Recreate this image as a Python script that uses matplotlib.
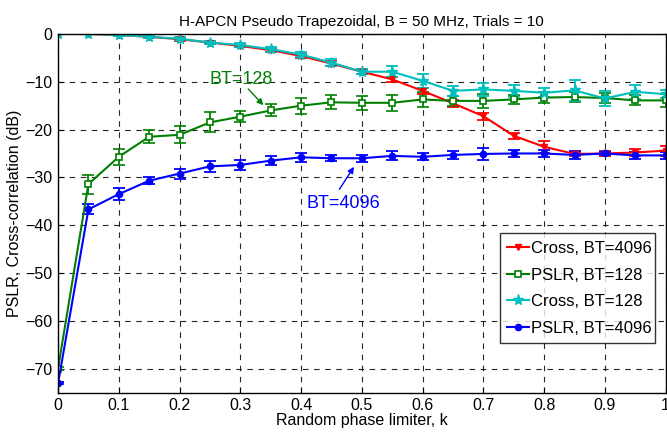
import matplotlib
matplotlib.use("Agg")
import matplotlib.pyplot as plt

plt.rcParams['font.family'] = ['Liberation Sans', 'DejaVu Sans']

# data
k = [0, 0.05, 0.1, 0.15, 0.2, 0.25, 0.3, 0.35, 0.4, 0.45, 0.5,
     0.55, 0.6, 0.65, 0.7, 0.75, 0.8, 0.85, 0.9, 0.95, 1.0]

cross_4096 = [0, 0, -0.2, -0.6, -1.1, -1.8, -2.5, -3.4, -4.6, -6.2, -7.9,
              -9.5, -11.9, -14.5, -17.2, -21.3, -23.6, -25.1, -25.0, -24.8, -24.4]
cross_4096_err = [0.1, 0.1, 0.2, 0.2, 0.3, 0.3, 0.3, 0.3, 0.4, 0.5, 0.5,
                  0.5, 0.7, 0.7, 0.7, 0.6, 1.3, 0.5, 0.5, 0.8, 1.05]

pslr_128 = [-70.0, -31.4, -25.7, -21.5, -21.1, -18.5, -17.3, -16.0, -15.0, -14.3, -14.4,
            -14.4, -13.7, -14.0, -14.0, -13.7, -13.3, -13.2, -13.4, -13.9, -13.9]
pslr_128_err = [0.3, 2.0, 1.65, 1.4, 1.75, 2.1, 1.2, 1.25, 1.7, 1.5, 1.5,
                1.7, 1.6, 1.1, 1.4, 1.0, 1.2, 1.05, 1.0, 1.05, 1.4]

cross_128 = [0, 0, -0.2, -0.6, -1.0, -1.8, -2.3, -3.2, -4.3, -6.0, -7.9,
             -7.9, -9.8, -11.9, -11.6, -11.9, -12.3, -11.8, -13.5, -12.1, -12.6]
cross_128_err = [0.1, 0.1, 0.2, 0.3, 0.3, 0.3, 0.5, 0.5, 0.5, 0.7, 0.5,
                 1.2, 1.5, 1.05, 1.4, 1.2, 0.95, 2.2, 1.5, 1.5, 0.9]

pslr_4096 = [-73.1, -36.7, -33.5, -30.7, -29.2, -27.7, -27.4, -26.5, -25.8, -26.0, -26.0,
             -25.5, -25.7, -25.3, -25.1, -25.0, -25.0, -25.3, -25.0, -25.4, -25.4]
pslr_4096_err = [0.2, 1.05, 1.25, 0.7, 1.05, 1.15, 1.05, 0.9, 0.95, 0.65, 0.75,
                 0.95, 0.75, 0.9, 1.2, 0.65, 0.65, 0.8, 0.4, 0.75, 0.75]

xticks = [0, 0.1, 0.2, 0.3, 0.4, 0.5, 0.6, 0.7, 0.8, 0.9, 1]
xticklabels = ['0', '0.1', '0.2', '0.3', '0.4', '0.5', '0.6', '0.7', '0.8', '0.9', '1']
yticks = [0, -10, -20, -30, -40, -50, -60, -70]

RED = "#ff0000"
GREEN = "#008000"
CYAN = "#00bfbf"
BLUE = "#0000ff"

fig = plt.figure(figsize=(6.67, 4.32), dpi=100)
ax = fig.add_axes([0.087, 0.0914, 0.911, 0.830])

common = dict(linewidth=1.5, capsize=4.5, elinewidth=1.3, capthick=1.3)

c1 = ax.errorbar(k, cross_4096, yerr=cross_4096_err, color=RED, marker='v',
                 markersize=5, label="Cross, BT=4096", **common)
c2 = ax.errorbar(k, pslr_128, yerr=pslr_128_err, color=GREEN, marker='s',
                 markersize=5, markerfacecolor='white', markeredgewidth=1.2,
                 label="PSLR, BT=128", **common)
c3 = ax.errorbar(k, cross_128, yerr=cross_128_err, color=CYAN, marker='*',
                 markersize=8, label="Cross, BT=128", **common)
c4 = ax.errorbar(k, pslr_4096, yerr=pslr_4096_err, color=BLUE, marker='o',
                 markersize=4.5, label="PSLR, BT=4096", **common)

ax.set_xlim(0, 1)
ax.set_ylim(-75, 0)
ax.set_xticks(xticks)
ax.set_xticklabels(xticklabels)
ax.set_yticks(yticks)
ax.tick_params(direction='in', labelsize=11.5, length=4, pad=4)
ax.grid(True, color='black', linestyle=(0, (5, 5)), linewidth=0.8, alpha=0.85)
ax.set_axisbelow(True)
for s in ax.spines.values():
    s.set_linewidth(1.0)

ax.set_title("H-APCN Pseudo Trapezoidal, B = 50 MHz, Trials = 10", fontsize=11, pad=6)
ax.set_xlabel("Random phase limiter, k", fontsize=11.5, labelpad=0)
ax.set_ylabel("PSLR, Cross-correlation (dB)", fontsize=11.5, labelpad=2)

# text labels with arrows
ax.text(0.302, -9.6, "BT=128", color=GREEN, fontsize=13, ha='center', va='center')
ax.annotate("", xy=(0.338, -14.9), xytext=(0.313, -11.5),
            arrowprops=dict(arrowstyle='-|>', color=GREEN, lw=1.0,
                            mutation_scale=9, shrinkA=0, shrinkB=0))
ax.text(0.469, -35.5, "BT=4096", color=BLUE, fontsize=13, ha='center', va='center')
ax.annotate("", xy=(0.487, -27.8), xytext=(0.463, -32.5),
            arrowprops=dict(arrowstyle='-|>', color=BLUE, lw=1.0,
                            mutation_scale=9, shrinkA=0, shrinkB=0))

handles = [c1[0], c2[0], c3[0], c4[0]]
labels = ["Cross, BT=4096", "PSLR, BT=128", "Cross, BT=128", "PSLR, BT=4096"]
leg = ax.legend(handles, labels, loc='lower left',
                bbox_to_anchor=(0.727, 0.137, 0.255, 0.298),
                mode='expand', fontsize=12, frameon=True, fancybox=False,
                edgecolor='black', handlelength=1.3, handletextpad=0.15,
                borderpad=0.45, labelspacing=0.7, borderaxespad=0)
leg.get_frame().set_linewidth(1.0)

fig.savefig("out.png", dpi=100)
